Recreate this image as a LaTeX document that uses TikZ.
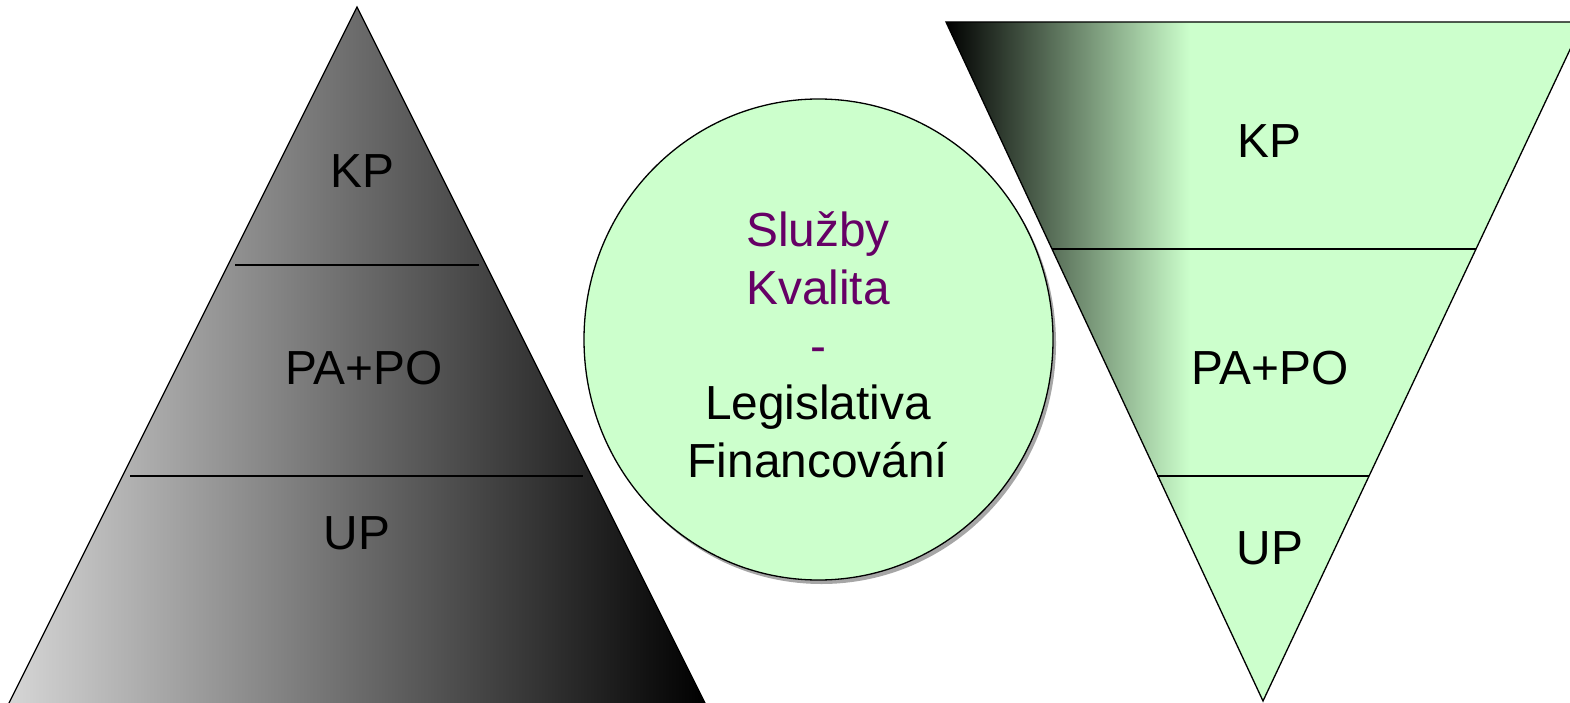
\documentclass[tikz,border=0pt]{standalone}
\usepackage{fontspec}
\setmainfont{Liberation Sans}
\definecolor{lgreen}{RGB}{204,255,204}
\definecolor{lgray}{RGB}{214,214,214}
\definecolor{purp}{RGB}{102,0,102}
\begin{document}
\begin{tikzpicture}[x=1bp,y=-1bp,
  lbl/.style={font=\fontsize{48}{57}\selectfont, text height=34.4bp, text depth=0pt, inner sep=0pt},
  edge/.style={draw=black, line width=1.3bp, line join=miter}]
\useasboundingbox (0,0) rectangle (1570,703);
\clip (0,0) rectangle (1570,703);
% left pyramid
\coordinate (LA) at (357,7);
\coordinate (LB) at (8,705);
\coordinate (LC) at (706,705);
\shade[left color=lgray, right color=black] (LA) -- (LB) -- (LC) -- cycle;
\draw[edge] (LA) -- (LB) -- (LC) -- cycle;
\coordinate (l1a) at (235,265); \coordinate (l1b) at (479,265);
\coordinate (l2a) at (130,476); \coordinate (l2b) at (583,476);
\draw[line width=1.3bp] (l1a) -- (l1b);
\draw[line width=1.3bp] (l2a) -- (l2b);
\node[lbl] (lkp) at (362,170) {KP};
\node[lbl] (lpa) at (364,367) {PA+PO};
\node[lbl] (lup) at (357,532) {UP};
% circle
\fill[gray!70] (821.5,343.5) ellipse [x radius=234.5, y radius=240.5];
\draw[fill=lgreen, line width=1.3bp] (818.5,339.5) ellipse [x radius=234.5, y radius=240.5];
\node[font=\fontsize{48}{58}\selectfont, align=center, inner sep=0pt] (ctext) at (818,345)
  {\textcolor{purp}{Služby}\\\textcolor{purp}{Kvalita}\\\textcolor{purp}{-}\\Legislativa\\Financování};
% right inverted pyramid
\coordinate (RA) at (946,22);
\coordinate (RB) at (1583,22);
\coordinate (RC) at (1263,701);
\begin{scope}
\clip (RA) -- (RB) -- (RC) -- cycle;
\fill[lgreen] (1185,0) rectangle (1600,710);
\shade[left color=black, right color=lgreen] (946,0) rectangle (1190,710);
\end{scope}
\draw[edge] (RA) -- (RB) -- (RC) -- cycle;
\coordinate (r1a) at (1052,249); \coordinate (r1b) at (1476,249);
\coordinate (r2a) at (1157,476); \coordinate (r2b) at (1369,476);
\draw[line width=1.3bp] (r1a) -- (r1b);
\draw[line width=1.3bp] (r2a) -- (r2b);
\node[lbl] (rkp) at (1269,140) {KP};
\node[lbl] (rpa) at (1270,367) {PA+PO};
\node[lbl] (rup) at (1270,547) {UP};
\end{tikzpicture}
\end{document}
